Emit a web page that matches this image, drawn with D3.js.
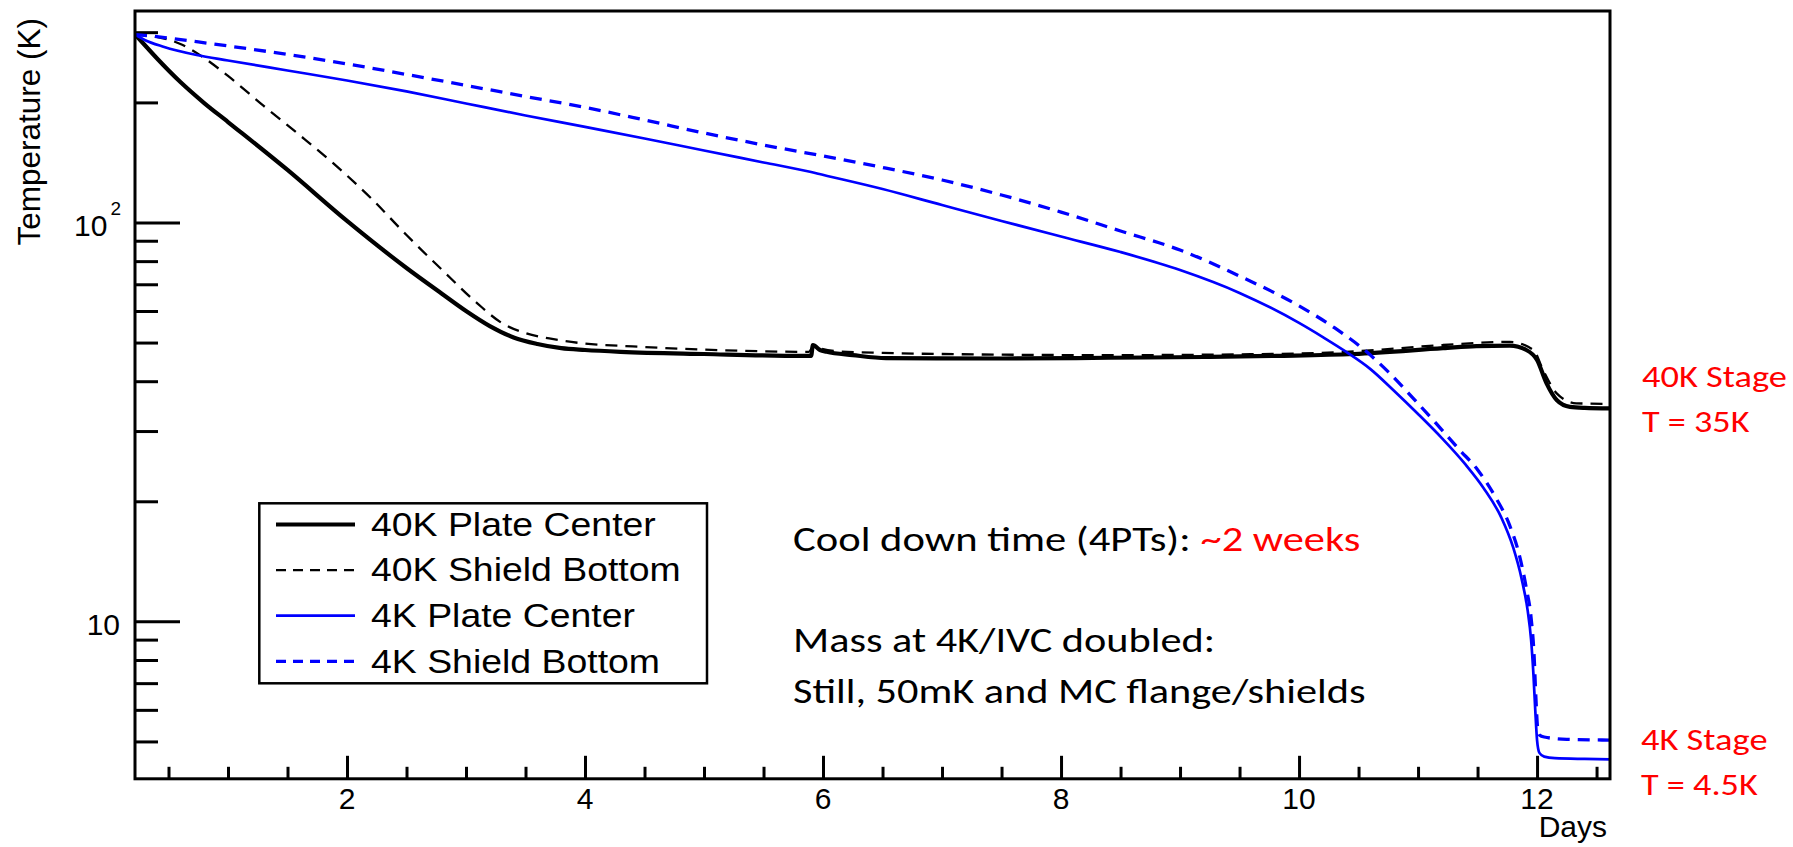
<!DOCTYPE html>
<html>
<head>
<meta charset="utf-8">
<script src="https://cdn.jsdelivr.net/npm/d3@7"></script>
<style>
  html, body { margin: 0; padding: 0; background: #fff; }
  svg { display: block; }
  .root { font-family: "Liberation Sans", Arial, sans-serif; }
  .slide { font-family: Calibri, Carlito, Lato, sans-serif; }
</style>
</head>
<body>
<svg id="chart" width="1793" height="847"></svg>
<script>
// ---------------- data (day, temperature in K) ----------------
const plate40K = [
  [0.2185,296],[0.3,278.6],[0.4,258.5],[0.6,225.0],[0.8,199.3],[1.0,178.6],
  [1.5,135.4],[2.0,100.9],[2.5,76.9],[2.8,66.2],[3.0,60.0],[3.2,55.0],
  [3.4,51.5],[3.6,49.6],[3.8,48.4],[4.0,47.9],[4.3,47.4],[5.0,46.8],[5.835,46.3],
  [5.90,46.3],[5.915,49.3],[5.975,47.9],[6.03,47.4],[6.25,46.5],[6.53,45.7],
  [7.5,45.6],[8.4,45.8],[9.2,46.0],[9.81,46.3],[10.46,46.8],[11.21,48.4],
  [11.49,49.0],[11.77,49.1],[11.91,47.9],[12.0,45.2],[12.08,39.5],[12.165,35.9],
  [12.277,34.5],[12.4,34.3],[12.613,34.2]
];
const shield40K = [
  [0.2185,296],[0.4,291.8],[0.6,280.3],[0.8,258.5],[1.0,233.0],[1.3,196.0],
  [1.6,165.8],[1.9,139.4],[2.2,115.2],[2.5,93.0],[2.8,76.0],[3.1,62.5],
  [3.3,56.0],[3.5,52.8],[3.7,51.2],[4.0,49.7],[4.4,48.9],[5.0,48.0],[5.88,47.4],
  [5.92,49.0],[5.98,48.3],[6.1,47.6],[6.5,47.1],[7.0,46.8],[8.4,46.5],[9.5,46.7],
  [10.46,47.5],[11.21,49.3],[11.77,50.2],[11.97,47.9],[12.05,42.7],[12.165,37.3],
  [12.33,35.2],[12.613,35.1]
];
const plate4K = [
  [0.2185,296],[0.3,286.8],[0.457,275.9],[0.737,263.0],[1.0,254.8],[1.5,240.5],
  [2.0,227.0],[2.5,213.1],[3.0,198.8],[3.5,185.5],[4.0,173.6],[4.5,162.4],
  [5.0,151.5],[5.5,141.4],[5.9,133.8],[5.95,132.7],[6.5,121.3],[7.0,110.6],
  [7.5,100.9],[8.0,92.2],[8.5,84.3],[9.0,76.0],[9.5,66.6],[10.0,56.0],[10.2,51.6],
  [10.4,47.3],[10.6,42.9],[10.8,37.8],[11.0,33.1],[11.2,28.8],[11.4,24.7],
  [11.55,21.6],[11.7,18.2],[11.8,15.3],[11.87,12.8],[11.92,10.7],[11.95,8.98],
  [11.97,7.33],[11.985,5.99],[12.0,5.04],[12.02,4.68],[12.06,4.58],[12.15,4.54],
  [12.4,4.52],[12.613,4.51]
];
const shield4K = [
  [0.2185,296],[0.5,290.1],[0.75,283.5],[1.0,277.1],[1.5,263.8],[2.0,249.7],
  [2.5,235.0],[3.0,220.6],[3.5,207.0],[4.0,194.3],[4.5,180.7],[5.0,167.6],
  [5.5,156.4],[6.0,146.8],[6.5,137.4],[7.0,127.8],[7.5,117.2],[8.0,106.2],
  [8.5,95.2],[9.0,85.3],[9.5,73.4],[10.0,61.8],[10.3,54.4],[10.55,47.9],
  [10.75,42.2],[10.95,36.5],[11.15,31.4],[11.35,26.9],[11.5,24.0],[11.65,20.5],
  [11.77,17.4],[11.85,14.7],[11.91,12.1],[11.95,10.2],[11.975,8.23],[11.99,6.46],
  [12.005,5.40],[12.02,5.19],[12.06,5.13],[12.25,5.06],[12.613,5.04]
];

const seriesNames = ["40K Plate Center", "40K Shield Bottom", "4K Plate Center", "4K Shield Bottom"];
const xMajorTicks = [2, 4, 6, 8, 10, 12];
const xMinorTicks = [0.5, 1, 1.5, 2.5, 3, 3.5, 4.5, 5, 5.5, 6.5, 7, 7.5, 8.5, 9, 9.5, 10.5, 11, 11.5, 12.5];
const yMajorTicks = [10, 100];
const yMinorTicks = [5, 6, 7, 8, 9, 20, 30, 40, 50, 60, 70, 80, 90, 200, 300];
const xDomain = [0.2185, 12.613];
const yDomain = [4.03, 339];

// ---------------- layout ----------------
const frame = { left: 135, right: 1610, top: 11, bottom: 778.8 };
const svg = d3.select("#chart");
svg.append("rect").attr("width", 1793).attr("height", 847).attr("fill", "#fff");

const x = d3.scaleLinear().domain(xDomain).range([frame.left, frame.right]);
const y = d3.scaleLog().domain(yDomain).range([frame.bottom, frame.top]);

svg.append("defs").append("clipPath").attr("id", "clip")
  .append("rect").attr("x", frame.left).attr("y", frame.top)
  .attr("width", frame.right - frame.left).attr("height", frame.bottom - frame.top);

// ---------------- axes (ticks inward, ROOT style) ----------------
function styleAxis(g) {
  g.select(".domain").remove();
  g.selectAll(".tick line").attr("stroke", "#000").attr("stroke-width", 3);
  g.selectAll(".tick text").remove();
}
svg.append("g").attr("transform", `translate(0,${frame.bottom})`)
  .call(d3.axisBottom(x).tickValues(xMajorTicks).tickSizeInner(-23).tickSizeOuter(0).tickFormat(""))
  .call(styleAxis);
svg.append("g").attr("transform", `translate(0,${frame.bottom})`)
  .call(d3.axisBottom(x).tickValues(xMinorTicks).tickSizeInner(-12).tickSizeOuter(0).tickFormat(""))
  .call(styleAxis);
svg.append("g").attr("transform", `translate(${frame.left},0)`)
  .call(d3.axisLeft(y).tickValues(yMajorTicks).tickSizeInner(-45).tickSizeOuter(0).tickFormat(""))
  .call(styleAxis);
svg.append("g").attr("transform", `translate(${frame.left},0)`)
  .call(d3.axisLeft(y).tickValues(yMinorTicks).tickSizeInner(-23).tickSizeOuter(0).tickFormat(""))
  .call(styleAxis);

// tick labels
const root = svg.append("g").attr("class", "root").attr("fill", "#000");
xMajorTicks.forEach(v => {
  root.append("text").attr("x", x(v)).attr("y", 809).attr("text-anchor", "middle")
    .attr("font-size", 30).text(v);
});
root.append("text").attr("x", 120).attr("y", y(10) + 13.5).attr("text-anchor", "end")
  .attr("font-size", 30).text("10");
const lbl100 = root.append("text").attr("x", 121).attr("y", y(100) + 14).attr("text-anchor", "end")
  .attr("font-size", 30);
lbl100.append("tspan").text("10");
lbl100.append("tspan").attr("dx", 3).attr("dy", -21).attr("font-size", 19).text("2");

root.append("text").attr("x", 1607).attr("y", 837).attr("text-anchor", "end")
  .attr("font-size", 30).text("Days");
root.append("text").attr("transform", "translate(40,18) rotate(-90)")
  .attr("text-anchor", "end").attr("font-size", 31.5).text("Temperature (K)");

// ---------------- curves ----------------
const line = d3.line().x(d => x(d[0])).y(d => y(d[1])).curve(d3.curveMonotoneX);
const styles = [
  { data: plate40K,  color: "#000", width: 4.2, dash: null },
  { data: shield40K, color: "#000", width: 2.3, dash: "12,8" },
  { data: plate4K,   color: "#0000ff", width: 2.7, dash: null },
  { data: shield4K,  color: "#0000ff", width: 3.3, dash: "12,8" }
];
const curves = svg.append("g").attr("clip-path", "url(#clip)");
styles.forEach(s => {
  curves.append("path").datum(s.data).attr("d", line)
    .attr("fill", "none").attr("stroke", s.color).attr("stroke-width", s.width)
    .attr("stroke-linejoin", "round")
    .attr("stroke-dasharray", s.dash);
});

// frame
svg.append("rect").attr("x", frame.left).attr("y", frame.top)
  .attr("width", frame.right - frame.left).attr("height", frame.bottom - frame.top)
  .attr("fill", "none").attr("stroke", "#000").attr("stroke-width", 3);

// ---------------- legend ----------------
const legend = svg.append("g").attr("class", "root");
legend.append("rect").attr("x", 259.3).attr("y", 503.3).attr("width", 447.7).attr("height", 180)
  .attr("fill", "#fff").attr("stroke", "#000").attr("stroke-width", 2.5);
const legendLengths = [284.8, 309.7, 264, 289];
seriesNames.forEach((name, i) => {
  const cy = 524.5 + 45.6 * i;
  const s = styles[i];
  legend.append("line").attr("x1", 276).attr("x2", 355).attr("y1", cy).attr("y2", cy)
    .attr("stroke", s.color).attr("stroke-width", s.width)
    .attr("stroke-dasharray", s.dash ? "10,7" : null);
  legend.append("text").attr("x", 371).attr("y", cy + 11.2).attr("font-size", 33)
    .attr("textLength", legendLengths[i]).attr("lengthAdjust", "spacingAndGlyphs")
    .text(name);
});

// ---------------- slide annotations ----------------
const slide = svg.append("g").attr("class", "slide");
function note(txt, xx, yy, size, len, color) {
  slide.append("text").attr("x", xx).attr("y", yy).attr("font-size", size)
    .attr("fill", color).attr("textLength", len).attr("lengthAdjust", "spacingAndGlyphs")
    .text(txt);
}
note("Cool down time (4PTs):", 793, 550.5, 35, 397.7, "#000");
note("~2 weeks", 1200.5, 550.5, 35, 159.9, "#ff0000");
note("Mass at 4K/IVC doubled:", 793, 651.5, 35, 422, "#000");
note("Still, 50mK and MC flange/shields", 793, 703, 35, 572.5, "#000");
note("40K Stage", 1642, 387, 31, 145, "#ff0000");
note("T = 35K", 1642, 431.7, 31, 107.5, "#ff0000");
note("4K Stage", 1641, 750, 31, 126.5, "#ff0000");
note("T = 4.5K", 1641, 795, 31, 116.7, "#ff0000");
</script>
</body>
</html>
